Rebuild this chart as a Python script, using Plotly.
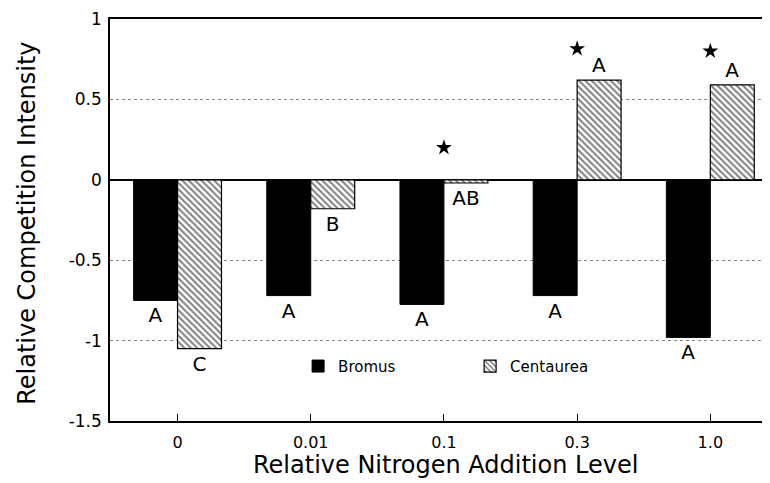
import plotly.graph_objects as go

levels = ["0", "0.01", "0.1", "0.3", "1.0"]
bromus = [-0.75, -0.72, -0.775, -0.72, -0.98]
centaurea = [-1.05, -0.18, -0.02, 0.62, 0.59]
bromus_letters = ["A", "A", "A", "A", "A"]
centaurea_letters = ["C", "B", "AB", "A", "A"]
star_levels = ["0.1", "0.3", "1.0"]
star_y = [0.2, 0.815, 0.8]
y_ticks = [-1.5, -1, -0.5, 0, 0.5, 1]
y_ticktext = ["-1.5", "-1", "-0.5", "0", "0.5", "1"]
x_title = "Relative Nitrogen Addition Level"
y_title = "Relative Competition Intensity"

FONT = "DejaVu Sans, Liberation Sans, Arial, sans-serif"

fig = go.Figure()
fig.add_trace(go.Bar(
    x=levels, y=bromus, name="Bromus",
    marker=dict(color="black", line=dict(color="black", width=1)),
    text=bromus_letters, textposition="outside",
    textfont=dict(family=FONT, size=20, color="black"),
    constraintext="none", cliponaxis=False,
))
fig.add_trace(go.Bar(
    x=levels, y=centaurea, name="Centaurea",
    marker=dict(color="white", line=dict(color="black", width=1.2),
                pattern=dict(shape="\\", fgcolor="black", bgcolor="white",
                             size=4.5, solidity=0.45, fillmode="overlay")),
    text=centaurea_letters, textposition="outside",
    textfont=dict(family=FONT, size=20, color="black"),
    constraintext="none", cliponaxis=False,
))
fig.add_trace(go.Scatter(
    x=star_levels, y=star_y, mode="markers", showlegend=False,
    marker=dict(symbol="star", size=12, color="black"),
    cliponaxis=False, hoverinfo="skip",
))

# page body has an 8px margin, so the figure is sized/offset to fit the 770x483 window
fig.update_layout(
    width=762, height=475,
    margin=dict(l=102, r=0, t=11, b=62),
    paper_bgcolor="white", plot_bgcolor="white",
    barmode="group", bargap=0.34, bargroupgap=0,
    font=dict(family=FONT, color="black"),
    showlegend=True,
    legend=dict(orientation="h", x=0.285, y=0.136, xanchor="left", yanchor="middle",
                font=dict(family=FONT, size=15, color="black"),
                entrywidth=127, entrywidthmode="pixels",
                bgcolor="rgba(0,0,0,0)", traceorder="normal"),
    annotations=[
        dict(text=x_title, xref="paper", yref="paper", x=0.508, y=-0.109,
             xanchor="center", yanchor="middle", showarrow=False,
             font=dict(family=FONT, size=24, color="black")),
        dict(text=y_title, xref="paper", yref="paper", x=-0.127, y=0.491,
             xanchor="center", yanchor="middle", showarrow=False, textangle=-90,
             font=dict(family=FONT, size=24, color="black")),
    ],
)
fig.update_xaxes(
    type="category", range=[-0.507, 4.448], automargin=False,
    showline=True, linecolor="black", linewidth=1.5, mirror=True,
    ticks="inside", ticklen=7, tickcolor="black", tickwidth=1,
    tickfont=dict(family=FONT, size=16, color="black"),
    ticklabelstandoff=6, ticklabeloverflow="allow",
    showgrid=False,
)
fig.update_yaxes(
    range=[-1.5, 1], tickvals=y_ticks, ticktext=y_ticktext, automargin=False,
    showline=True, linecolor="black", linewidth=1.5,
    ticks="", ticklabelstandoff=3, ticklabeloverflow="allow",
    tickfont=dict(family=FONT, size=17, color="black"),
    showgrid=True, gridcolor="#888888", griddash="dot", gridwidth=1,
    zeroline=True, zerolinecolor="black", zerolinewidth=1.5,
)

fig.write_html("out.html")
